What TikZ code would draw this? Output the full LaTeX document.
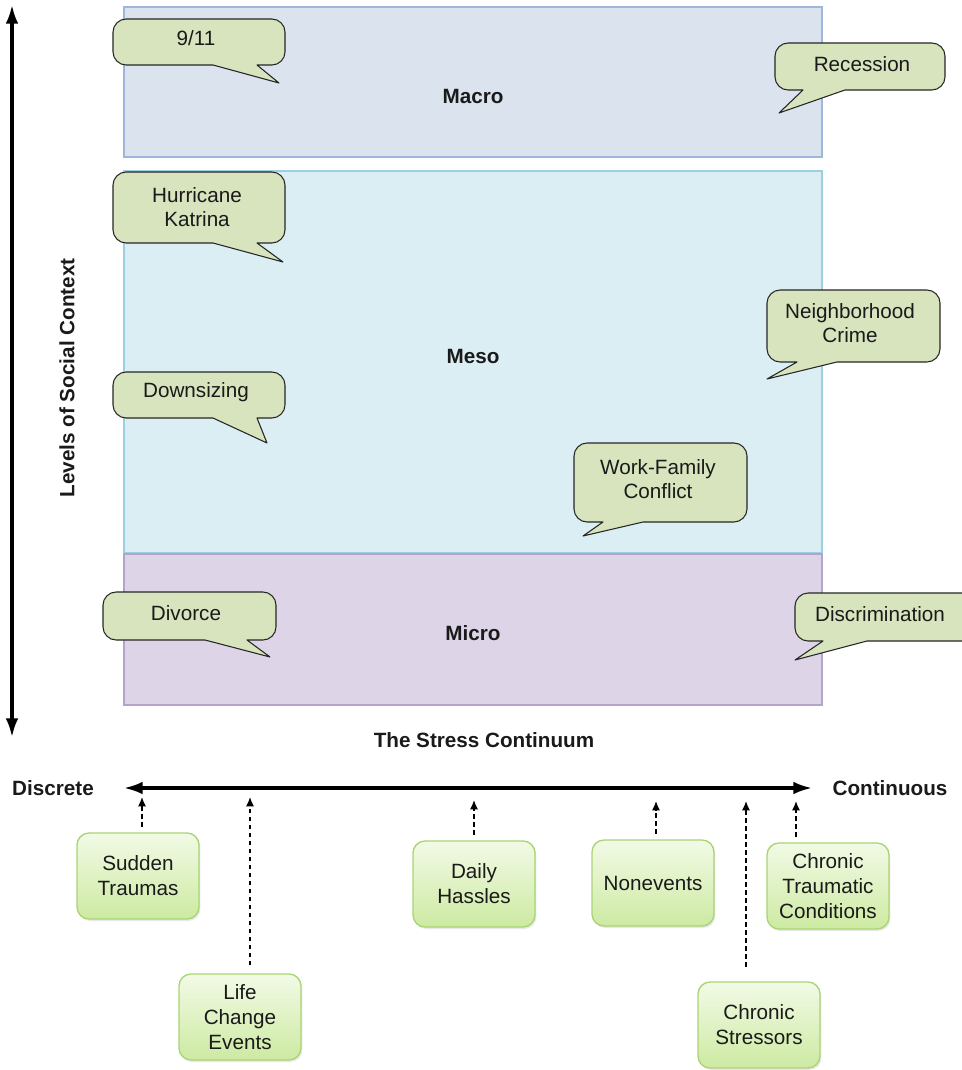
\documentclass[tikz,border=0pt]{standalone}
\usepackage{fontspec}
\setmainfont{Liberation Sans}
\usetikzlibrary{arrows.meta,shadows}

\definecolor{macrofill}{HTML}{DBE3EE}
\definecolor{macroline}{HTML}{9DB6DA}
\definecolor{mesofill}{HTML}{DBEEF4}
\definecolor{mesoline}{HTML}{9CD0E1}
\definecolor{microfill}{HTML}{DDD5E7}
\definecolor{microline}{HTML}{B4A4CB}
\definecolor{bubblefill}{HTML}{D7E4BD}
\definecolor{bubbleline}{HTML}{262626}
\definecolor{boxtop}{HTML}{F2FAE6}
\definecolor{boxbottom}{HTML}{CDEAA2}
\definecolor{boxline}{HTML}{A9D472}
\definecolor{ink}{HTML}{1A1A1A}

% speech bubble: x1 y1 x2 y2 (box), bx1 bx2 (pointer base on the lower edge), tx ty (pointer tip)
\newcommand\speechbubble[8]{%
  \draw[bubble] (#7,#8) -- (#6,#4) -- ({#3-13},#4)
    .. controls ({#3-6},#4) and (#3,{#4-6}) .. (#3,{#4-13}) -- (#3,{#2+13})
    .. controls (#3,{#2+6}) and ({#3-6},#2) .. ({#3-13},#2) -- ({#1+13},#2)
    .. controls ({#1+6},#2) and (#1,{#2+6}) .. (#1,{#2+13}) -- (#1,{#4-13})
    .. controls (#1,{#4-6}) and ({#1+6},#4) .. ({#1+13},#4) -- (#5,#4) -- cycle;}

\begin{document}
\begin{tikzpicture}[x=0.75pt,y=-0.75pt,
  every node/.style={text=ink},
  region/.style={line width=1pt},
  level/.style={font=\fontsize{15.5}{18}\selectfont\bfseries},
  bubble/.style={fill=bubblefill,draw=bubbleline,line width=0.8pt,line join=round},
  bubbletext/.style={font=\fontsize{15.5}{18}\selectfont,align=center},
  stressbox/.style={draw=boxline,line width=1pt,rounded corners=9pt,
    top color=boxtop,bottom color=boxbottom,
    minimum width=91.5pt,minimum height=64.5pt,inner sep=2pt,
    font=\fontsize{15.5}{18.75}\selectfont,align=center,
    drop shadow={opacity=0.18,shadow xshift=1pt,shadow yshift=-1.5pt}},
  bigtip/.style={Latex[length=14pt,width=9.5pt]},
  bigarrow/.style={line width=2.3pt},
  dasharrow/.style={line width=1pt,dash pattern=on 3.5pt off 2.5pt,
    -{Latex[length=7pt,width=6pt]},shorten <=4pt}]

\useasboundingbox (0,0) rectangle (962,1070);

% levels of social context
\draw[region,fill=macrofill,draw=macroline] (124,7) rectangle (822,157);
\draw[region,fill=mesofill,draw=mesoline] (124,171) rectangle (822,553);
\draw[region,fill=microfill,draw=microline] (124,554) rectangle (822,705);
\node[level] (macro) at (473,96) {Macro};
\node[level] (meso) at (473,356) {Meso};
\node[level] (micro) at (473,633) {Micro};

% vertical axis
\coordinate (vtop) at (12,5);
\coordinate (vbot) at (12,737);
\draw[bigarrow,{Latex[length=14pt,width=9.5pt]}-{Latex[length=14pt,width=9.5pt]}] (vbot) -- (vtop);
\node[level,rotate=90] (levels) at (67,378) {Levels of Social Context};

% stressor bubbles
\speechbubble{113}{19}{285}{65}{213}{257}{279}{83}
\node[bubbletext] (nineeleven) at (196,38) {9/11};
\speechbubble{775}{43}{945}{90}{803}{845}{779}{113}
\node[bubbletext] (recession) at (862,64) {Recession};
\speechbubble{113}{172}{285}{243}{213}{257}{283}{262}
\node[bubbletext] (katrina) at (197,207) {Hurricane\\Katrina};
\speechbubble{113}{372}{285}{418}{213}{257}{267}{443}
\node[bubbletext] (downsizing) at (196,392) {Downsizing};
\speechbubble{767}{290}{940}{362}{797}{837}{767}{379}
\node[bubbletext] (crime) at (850,323) {Neighborhood\\Crime};
\speechbubble{574}{443}{747}{522}{603}{643}{583}{536}
\node[bubbletext] (workfamily) at (658,479) {Work-Family\\Conflict};
\speechbubble{103}{592}{276}{640}{205}{247}{270}{657}
\node[bubbletext] (divorce) at (186,613) {Divorce};
\speechbubble{795}{593}{975}{641}{823}{867}{795}{660}
\node[bubbletext] (discrimination) at (880,614) {Discrimination};

% the stress continuum
\node[level] (continuum) at (484,740) {The Stress Continuum};
\coordinate (hleft) at (124,788);
\coordinate (hright) at (812,788);
\draw[bigarrow,{Latex[length=14pt,width=9.5pt]}-{Latex[length=14pt,width=9.5pt]}] (hleft) -- (hright);
\node[level] (discrete) at (53,788) {Discrete};
\node[level] (continuous) at (890,788) {Continuous};

% stressor types along the continuum
\node[stressbox] (sudden) at (138,876) {Sudden\\Traumas};
\node[stressbox] (life) at (240,1017) {Life\\Change\\Events};
\node[stressbox] (daily) at (474,884) {Daily\\Hassles};
\node[stressbox] (nonevents) at (653,883) {Nonevents};
\node[stressbox] (traumatic) at (828,886) {Chronic\\Traumatic\\Conditions};
\node[stressbox] (stressors) at (759,1025) {Chronic\\Stressors};

\coordinate (tsudden) at (142,797);
\coordinate (tlife) at (250,797);
\coordinate (tdaily) at (474,800);
\coordinate (tnonevents) at (656,801);
\coordinate (tstressors) at (746,801);
\coordinate (ttraumatic) at (796,801);

\draw[dasharrow] (sudden.north -| tsudden) -- (tsudden);
\draw[dasharrow,shorten <=6pt] (life.north -| tlife) -- (tlife);
\draw[dasharrow] (daily.north -| tdaily) -- (tdaily);
\draw[dasharrow] (nonevents.north -| tnonevents) -- (tnonevents);
\draw[dasharrow,shorten <=11pt] (stressors.north -| tstressors) -- (tstressors);
\draw[dasharrow] (traumatic.north -| ttraumatic) -- (ttraumatic);
\end{tikzpicture}
\end{document}
